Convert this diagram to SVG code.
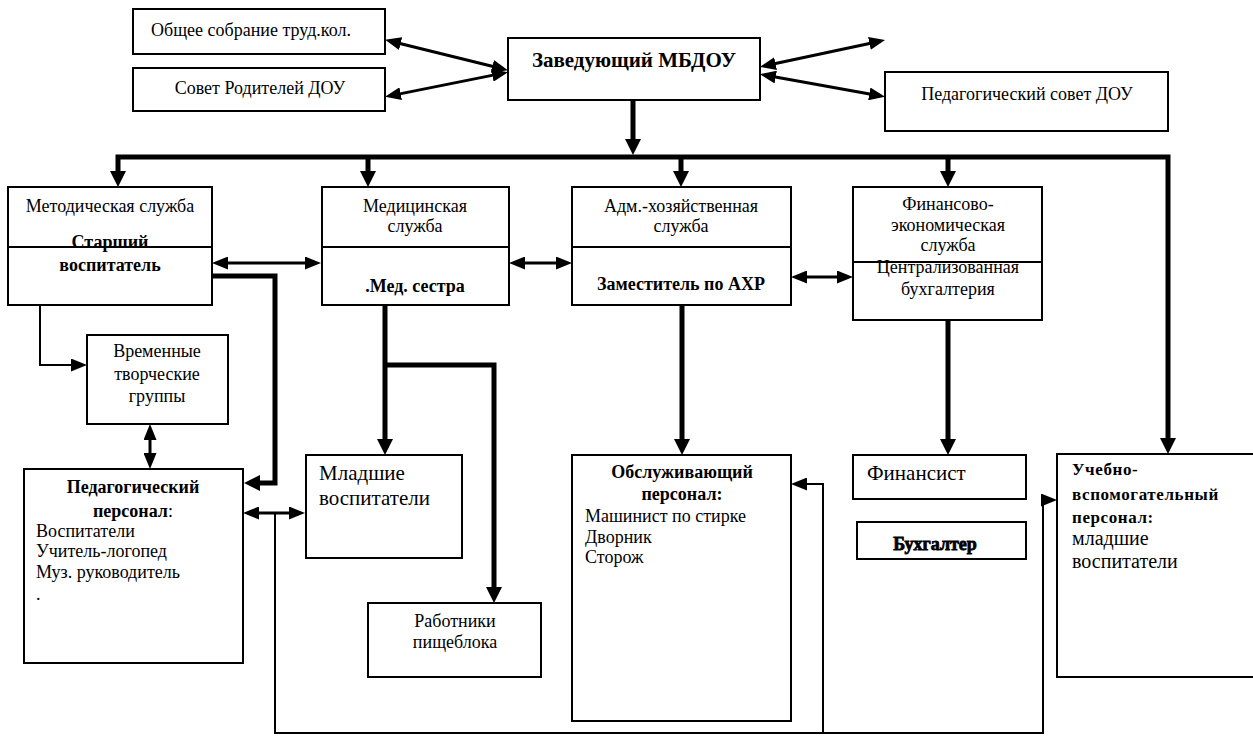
<svg xmlns="http://www.w3.org/2000/svg" width="1253" height="738" viewBox="0 0 1253 738">
<style>
.box{fill:#fff;stroke:#000;stroke-width:2}
.div{stroke:#000;stroke-width:2}
.thick{fill:none;stroke:#000;stroke-width:5;stroke-linejoin:miter}
.med{fill:none;stroke:#000;stroke-width:3}
.thin{fill:none;stroke:#000;stroke-width:2}
</style>
<defs>
<marker id="ab" markerUnits="userSpaceOnUse" viewBox="0 0 16 16" markerWidth="16" markerHeight="16" refX="6" refY="8" orient="auto-start-reverse"><path d="M0,0 L16,8 L0,16 z" fill="#000"/></marker>
<marker id="am" markerUnits="userSpaceOnUse" viewBox="0 0 16 13" markerWidth="16" markerHeight="13" refX="6" refY="6.5" orient="auto-start-reverse"><path d="M0,0 L16,6.5 L0,13 z" fill="#000"/></marker>
</defs>
<rect width="1253" height="738" fill="#fff"/>

<g id="connectors">
<line class="med" x1="394.8" y1="42.2" x2="498.2" y2="67.8" marker-start="url(#am)" marker-end="url(#am)"/>
<line class="med" x1="394.8" y1="94.9" x2="498.2" y2="74.1" marker-start="url(#am)" marker-end="url(#am)"/>
<line class="med" x1="769.7" y1="64.8" x2="875.3" y2="42.2" marker-start="url(#am)" marker-end="url(#am)"/>
<line class="med" x1="769.8" y1="76" x2="875.2" y2="95" marker-start="url(#am)" marker-end="url(#am)"/>
<path class="thick" d="M633,100 V145" marker-end="url(#ab)"/>
<path class="thick" d="M118,177 V157 H1168 V444" marker-start="url(#ab)" marker-end="url(#ab)"/>
<path class="thick" d="M368,157 V177" marker-end="url(#ab)"/>
<path class="thick" d="M681,157 V177" marker-end="url(#ab)"/>
<path class="thick" d="M948,157 V177" marker-end="url(#ab)"/>
<line class="med" x1="222" y1="263" x2="311" y2="263" marker-start="url(#am)" marker-end="url(#am)"/>
<line class="med" x1="519" y1="263" x2="562" y2="263" marker-start="url(#am)" marker-end="url(#am)"/>
<line class="med" x1="801" y1="277" x2="843" y2="277" marker-start="url(#am)" marker-end="url(#am)"/>
<path class="thick" d="M212,276 H275 V483 H254" marker-end="url(#ab)"/>
<path class="thin" d="M40,305 V365 H77" marker-end="url(#am)"/>
<line class="med" x1="150" y1="434" x2="150" y2="459" marker-start="url(#am)" marker-end="url(#am)"/>
<line class="med" x1="253" y1="513" x2="295" y2="513" marker-start="url(#am)" marker-end="url(#am)"/>
<path class="thick" d="M385,305 V445" marker-end="url(#ab)"/>
<path class="thick" d="M385,365 H494 V593" marker-end="url(#ab)"/>
<path class="thick" d="M682,305 V445" marker-end="url(#ab)"/>
<path class="thick" d="M948,320 V445" marker-end="url(#ab)"/>
<path class="thin" d="M275,513 V733 H1043 V500 H1047" marker-end="url(#am)"/>
<path class="thin" d="M823,733 V484 H801" marker-end="url(#am)"/>
</g>

<g id="n-obshchee"><rect class="box" x="133" y="9" width="252" height="45"/><text x="251" y="36" text-anchor="middle" style="font-family:'Liberation Serif',serif;font-size:18px">Общее собрание труд.кол.</text></g>
<g id="n-sovet"><rect class="box" x="133" y="68" width="252" height="43"/><text x="260" y="94" text-anchor="middle" style="font-family:'Liberation Serif',serif;font-size:18px">Совет Родителей ДОУ</text></g>
<g id="n-zav"><rect class="box" x="508" y="38" width="252" height="62"/><text x="634" y="67" text-anchor="middle" style="font-family:'Liberation Serif',serif;font-size:21px;font-weight:bold">Заведующий МБДОУ</text></g>
<g id="n-pedsovet"><rect class="box" x="885" y="72" width="283" height="59"/><text x="1027" y="100" text-anchor="middle" style="font-family:'Liberation Serif',serif;font-size:18px">Педагогический совет ДОУ</text></g>

<g id="n-metod"><rect class="box" x="8" y="187" width="204" height="118"/><line class="div" x1="8" y1="247" x2="212" y2="247"/>
<text x="110" y="212" text-anchor="middle" style="font-family:'Liberation Serif',serif;font-size:18px">Методическая служба</text>
<text x="110" y="248" text-anchor="middle" style="font-family:'Liberation Serif',serif;font-size:18px;font-weight:bold">Старший</text>
<text x="110" y="271" text-anchor="middle" style="font-family:'Liberation Serif',serif;font-size:18px;font-weight:bold">воспитатель</text></g>
<g id="n-med"><rect class="box" x="322" y="187" width="187" height="118"/><line class="div" x1="322" y1="247" x2="509" y2="247"/>
<text x="415" y="212" text-anchor="middle" style="font-family:'Liberation Serif',serif;font-size:18px">Медицинская</text>
<text x="415" y="232" text-anchor="middle" style="font-family:'Liberation Serif',serif;font-size:18px">служба</text>
<text x="415" y="292" text-anchor="middle" style="font-family:'Liberation Serif',serif;font-size:18px;font-weight:bold">.Мед. сестра</text></g>
<g id="n-adm"><rect class="box" x="572" y="187" width="219" height="118"/><line class="div" x1="572" y1="247" x2="791" y2="247"/>
<text x="681" y="212" text-anchor="middle" style="font-family:'Liberation Serif',serif;font-size:18px">Адм.-хозяйственная</text>
<text x="681" y="232" text-anchor="middle" style="font-family:'Liberation Serif',serif;font-size:18px">служба</text>
<text x="681" y="290" text-anchor="middle" style="font-family:'Liberation Serif',serif;font-size:18px;font-weight:bold">Заместитель по АХР</text></g>
<g id="n-fin"><rect class="box" x="853" y="187" width="189" height="133"/><line class="div" x1="853" y1="262" x2="1042" y2="262"/>
<text x="948" y="210" text-anchor="middle" style="font-family:'Liberation Serif',serif;font-size:18px">Финансово-</text>
<text x="948" y="231" text-anchor="middle" style="font-family:'Liberation Serif',serif;font-size:18px">экономическая</text>
<text x="948" y="251" text-anchor="middle" style="font-family:'Liberation Serif',serif;font-size:18px">служба</text>
<text x="948" y="273" text-anchor="middle" style="font-family:'Liberation Serif',serif;font-size:18px">Централизованная</text>
<text x="948" y="295" text-anchor="middle" style="font-family:'Liberation Serif',serif;font-size:18px">бухгалтерия</text></g>

<g id="n-vrem"><rect class="box" x="87" y="335" width="141" height="89"/>
<text x="157" y="357" text-anchor="middle" style="font-family:'Liberation Serif',serif;font-size:18px">Временные</text>
<text x="157" y="380" text-anchor="middle" style="font-family:'Liberation Serif',serif;font-size:18px">творческие</text>
<text x="157" y="402" text-anchor="middle" style="font-family:'Liberation Serif',serif;font-size:18px">группы</text></g>
<g id="n-pedpers"><rect class="box" x="24" y="469" width="219" height="194"/>
<text x="133" y="493" text-anchor="middle" style="font-family:'Liberation Serif',serif;font-size:18px;font-weight:bold">Педагогический</text>
<text x="133" y="517" text-anchor="middle" style="font-family:'Liberation Serif',serif;font-size:18px"><tspan style="font-weight:bold">персонал</tspan>:</text>
<text x="36" y="537" style="font-family:'Liberation Serif',serif;font-size:18px">Воспитатели</text>
<text x="36" y="557" style="font-family:'Liberation Serif',serif;font-size:18px">Учитель-логопед</text>
<text x="36" y="578" style="font-family:'Liberation Serif',serif;font-size:18px">Муз. руководитель</text>
<text x="36" y="600" style="font-family:'Liberation Serif',serif;font-size:18px">.</text></g>
<g id="n-mladshie"><rect class="box" x="306" y="455" width="156" height="103"/>
<text x="319" y="480" style="font-family:'Liberation Serif',serif;font-size:21px">Младшие</text>
<text x="319" y="505" style="font-family:'Liberation Serif',serif;font-size:21px">воспитатели</text></g>
<g id="n-rabotniki"><rect class="box" x="368" y="603" width="173" height="74"/>
<text x="455" y="627" text-anchor="middle" style="font-family:'Liberation Serif',serif;font-size:18px">Работники</text>
<text x="455" y="648" text-anchor="middle" style="font-family:'Liberation Serif',serif;font-size:18px">пищеблока</text></g>
<g id="n-obsl"><rect class="box" x="572" y="455" width="219" height="266"/>
<text x="682" y="478" text-anchor="middle" style="font-family:'Liberation Serif',serif;font-size:18px;font-weight:bold">Обслуживающий</text>
<text x="682" y="500" text-anchor="middle" style="font-family:'Liberation Serif',serif;font-size:18px;font-weight:bold">персонал:</text>
<text x="585" y="522" style="font-family:'Liberation Serif',serif;font-size:18px">Машинист по стирке</text>
<text x="585" y="543" style="font-family:'Liberation Serif',serif;font-size:18px">Дворник</text>
<text x="585" y="563" style="font-family:'Liberation Serif',serif;font-size:18px">Сторож</text></g>
<g id="n-finansist"><rect class="box" x="853" y="455" width="173" height="44"/>
<text x="867" y="480" style="font-family:'Liberation Serif',serif;font-size:21px">Финансист</text></g>
<g id="n-buh"><rect class="box" x="857" y="522" width="169" height="37"/>
<text x="935" y="550" text-anchor="middle" style="font-family:'Liberation Serif',serif;font-size:18px;font-weight:bold;stroke:#000;stroke-width:0.8">Бухгалтер</text></g>
<g id="n-uchebno"><rect class="box" x="1057" y="454" width="200" height="223"/>
<text x="1072" y="475" style="font-family:'Liberation Serif',serif;font-size:17px;font-weight:bold;letter-spacing:0.6px">Учебно-</text>
<text x="1072" y="500" style="font-family:'Liberation Serif',serif;font-size:17px;font-weight:bold;letter-spacing:0.6px">вспомогательный</text>
<text x="1072" y="523" style="font-family:'Liberation Serif',serif;font-size:17px;font-weight:bold;letter-spacing:0.6px">персонал:</text>
<text x="1072" y="545" style="font-family:'Liberation Serif',serif;font-size:20px">младшие</text>
<text x="1072" y="568" style="font-family:'Liberation Serif',serif;font-size:20px">воспитатели</text></g>
</svg>
